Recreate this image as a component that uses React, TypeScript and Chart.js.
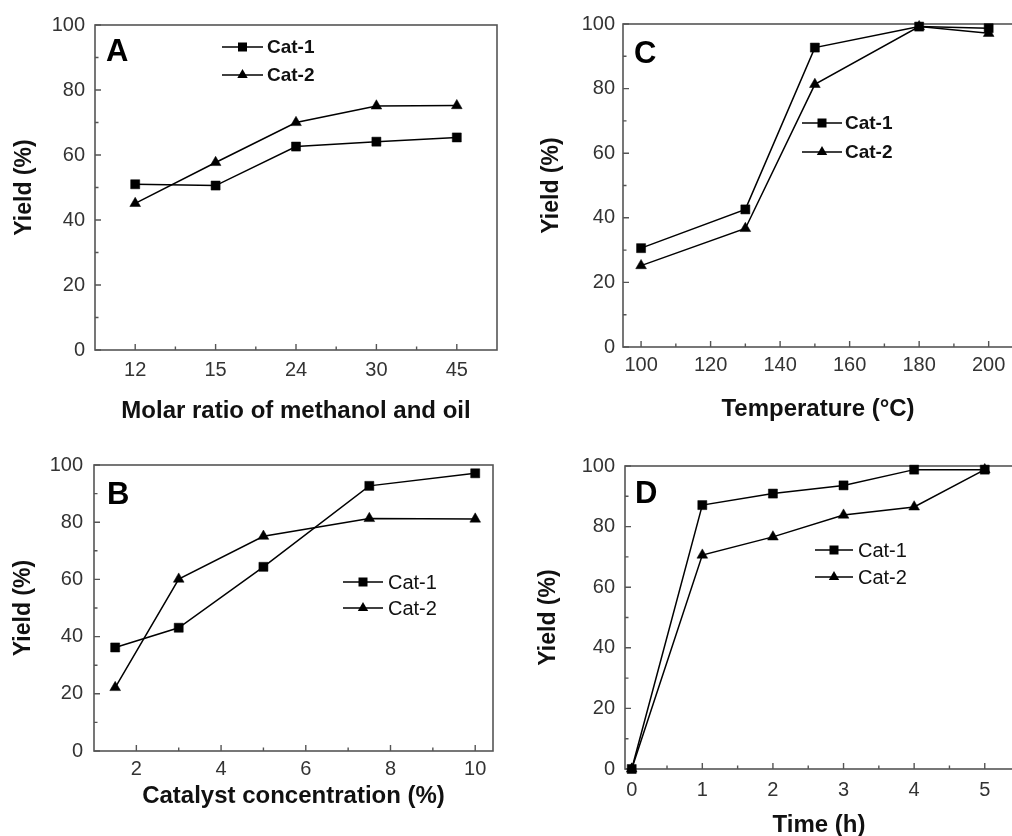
import React, { useEffect, useRef } from 'react';
import { Chart, registerables } from 'chart.js';

Chart.register(...registerables);

const FONT = "'Liberation Sans', Arial, Helvetica, sans-serif";

// ---------- Data ----------
const SERIES_LABELS = ['Cat-1', 'Cat-2'];
const Y_TICKS = [0, 20, 40, 60, 80, 100];
const Y_MINOR = [10, 30, 50, 70, 90];

// Panel A
const A_CATEGORIES = ['12', '15', '24', '30', '45'];
const A_CAT1 = [51.0, 50.6, 62.6, 64.1, 65.4];
const A_CAT2 = [45.1, 57.7, 70.0, 75.1, 75.2];
const A_X_MINOR = [0.5, 1.5, 2.5, 3.5];

// Panel B
const B_X = [1.5, 3, 5, 7.5, 10];
const B_CAT1 = [36.2, 43.1, 64.4, 92.7, 97.1];
const B_CAT2 = [22.2, 60.1, 75.1, 81.3, 81.1];
const B_X_TICKS = [2, 4, 6, 8, 10];
const B_X_MINOR = [3, 5, 7, 9];

// Panel C
const C_X = [100, 130, 150, 180, 200];
const C_CAT1 = [30.6, 42.6, 92.7, 99.2, 98.7];
const C_CAT2 = [25.2, 36.7, 81.3, 99.2, 97.1];
const C_X_TICKS = [100, 120, 140, 160, 180, 200];
const C_X_MINOR = [110, 130, 150, 170, 190];

// Panel D
const D_X = [0, 1, 2, 3, 4, 5];
const D_CAT1 = [0, 87.1, 90.9, 93.6, 98.8, 98.8];
const D_CAT2 = [0, 70.6, 76.6, 83.8, 86.5, 98.8];
const D_X_TICKS = [0, 1, 2, 3, 4, 5];
const D_X_MINOR = [0.5, 1.5, 2.5, 3.5, 4.5];

// ---------- Helpers ----------
function drawMarker(ctx: CanvasRenderingContext2D, style: string, x: number, y: number) {
  ctx.beginPath();
  if (style === 'rect') {
    const s = 4.5;
    ctx.rect(x - s, y - s, 2 * s, 2 * s);
  } else {
    const r = 6;
    ctx.moveTo(x, y - r);
    ctx.lineTo(x + r * 0.866, y + r * 0.5);
    ctx.lineTo(x - r * 0.866, y + r * 0.5);
    ctx.closePath();
  }
  ctx.fillStyle = '#000';
  ctx.fill();
}

const decorPlugin = {
  id: 'panelDecor',
  beforeDatasetsDraw(chart: any, _args: any, opts: any) {
    const { ctx, chartArea } = chart;
    const { left, right, top, bottom } = chartArea;
    const xs = chart.scales.x;
    const ys = chart.scales.y;
    ctx.save();
    ctx.strokeStyle = '#555';
    ctx.lineWidth = 1.6;
    ctx.strokeRect(left, top, right - left, bottom - top);
    ctx.lineWidth = 1.4;
    const major = 6;
    const minor = 3.5;
    ctx.beginPath();
    (opts.xMajor || xs.ticks.map((t: any) => t.value)).forEach((v: number) => {
      const px = xs.getPixelForValue(v);
      ctx.moveTo(px, bottom);
      ctx.lineTo(px, bottom - major);
    });
    (opts.xMinor || []).forEach((v: number) => {
      const px = xs.getPixelForValue(v);
      ctx.moveTo(px, bottom);
      ctx.lineTo(px, bottom - minor);
    });
    Y_TICKS.forEach((v) => {
      const py = ys.getPixelForValue(v);
      ctx.moveTo(left, py);
      ctx.lineTo(left + major, py);
    });
    Y_MINOR.forEach((v) => {
      const py = ys.getPixelForValue(v);
      ctx.moveTo(left, py);
      ctx.lineTo(left + minor, py);
    });
    ctx.stroke();

    // panel label
    ctx.fillStyle = '#000';
    ctx.font = `bold ${opts.labelSize}px ${FONT}`;
    ctx.textAlign = 'left';
    ctx.textBaseline = 'alphabetic';
    ctx.fillText(opts.label, opts.labelX, opts.labelY);

    // legend
    chart.data.datasets.forEach((ds: any, i: number) => {
      const y = opts.legendYs[i];
      ctx.beginPath();
      ctx.strokeStyle = '#000';
      ctx.lineWidth = 1.5;
      ctx.moveTo(opts.legendX1, y);
      ctx.lineTo(opts.legendX2, y);
      ctx.stroke();
      drawMarker(ctx, ds.pointStyle, (opts.legendX1 + opts.legendX2) / 2, y);
      ctx.fillStyle = '#111';
      ctx.font = `${opts.legendBold ? 'bold ' : ''}${opts.legendSize}px ${FONT}`;
      ctx.textBaseline = 'middle';
      ctx.fillText(ds.label, opts.legendTextX, y + 1);
    });
    ctx.restore();
  },
};

type Panel = {
  canvas: { left: number; top: number; w: number; h: number };
  plot: { l: number; t: number; r: number; b: number }; // relative to canvas
  xType: 'category' | 'linear';
  labels?: string[];
  xs?: number[];
  cat1: number[];
  cat2: number[];
  xMin?: number;
  xMax?: number;
  xTicks?: number[];
  xMinor: number[];
  xTitle: string;
  xTitlePadBottom: number;
  yTitlePadTop: number;
  yTickPad: number;
  xTickPad: number;
  decor: any;
};

function buildConfig(p: Panel): any {
  const mk = (vals: number[]) =>
    p.xType === 'category' ? vals : vals.map((v, i) => ({ x: (p.xs as number[])[i], y: v }));
  const common = {
    borderColor: '#000',
    borderWidth: 1.5,
    pointBackgroundColor: '#000',
    pointBorderColor: '#000',
    pointBorderWidth: 0.5,
    tension: 0,
    clip: false,
    fill: false,
  };
  const titleFont = { family: FONT, size: 23, weight: 'bold', lineHeight: 1.2 };
  return {
    type: 'line',
    data: {
      labels: p.labels,
      datasets: [
        { ...common, label: SERIES_LABELS[0], data: mk(p.cat1), pointStyle: 'rect', pointRadius: 6.4 },
        { ...common, label: SERIES_LABELS[1], data: mk(p.cat2), pointStyle: 'triangle', pointRadius: 6.2 },
      ],
    },
    options: {
      responsive: false,
      maintainAspectRatio: false,
      animation: false,
      events: [],
      layout: { padding: { left: 0, top: p.plot.t, right: p.canvas.w - p.plot.r, bottom: 0 } },
      plugins: {
        legend: { display: false },
        tooltip: { enabled: false },
        panelDecor: { ...p.decor, xMajor: p.xType === 'category' ? [0, 1, 2, 3, 4] : p.xTicks, xMinor: p.xMinor },
      },
      scales: {
        x: {
          type: p.xType,
          position: 'bottom',
          offset: p.xType === 'category',
          min: p.xMin,
          max: p.xMax,
          grid: { display: false, drawTicks: false },
          border: { display: false },
          ticks: { font: { family: FONT, size: 20 }, color: '#333', padding: p.xTickPad, maxRotation: 0, autoSkip: false },
          afterBuildTicks: p.xTicks
            ? (s: any) => {
                s.ticks = (p.xTicks as number[]).map((v) => ({ value: v }));
              }
            : undefined,
          title: {
            display: true,
            text: p.xTitle,
            color: '#111',
            font: { ...titleFont, size: 24 },
            padding: { top: 0, bottom: p.xTitlePadBottom },
          },
          afterFit: (s: any) => {
            s.height = p.canvas.h - p.plot.b;
          },
        },
        y: {
          type: 'linear',
          min: 0,
          max: 100,
          grid: { display: false, drawTicks: false },
          border: { display: false },
          afterBuildTicks: (s: any) => {
            s.ticks = Y_TICKS.map((v) => ({ value: v }));
          },
          ticks: { font: { family: FONT, size: 20 }, color: '#333', padding: p.yTickPad },
          title: {
            display: true,
            text: 'Yield (%)',
            color: '#111',
            font: titleFont,
            padding: { top: p.yTitlePadTop, bottom: 0 },
          },
          afterFit: (s: any) => {
            s.width = p.plot.l;
          },
        },
      },
    },
    plugins: [decorPlugin],
  };
}

const PANELS: Panel[] = [
  {
    canvas: { left: 0, top: 0, w: 506, h: 430 },
    plot: { l: 95, t: 25, r: 497, b: 350 },
    xType: 'category',
    labels: A_CATEGORIES,
    cat1: A_CAT1,
    cat2: A_CAT2,
    xMinor: A_X_MINOR,
    xTitle: 'Molar ratio of methanol and oil',
    xTitlePadBottom: 4,
    yTitlePadTop: 11,
    yTickPad: 10,
    xTickPad: 8,
    decor: { label: 'A', labelX: 106, labelY: 61, labelSize: 31, legendX1: 222, legendX2: 263, legendTextX: 267, legendYs: [47, 75], legendBold: true, legendSize: 19 },
  },
  {
    canvas: { left: 0, top: 430, w: 506, h: 406 },
    plot: { l: 94, t: 35, r: 493, b: 321 },
    xType: 'linear',
    xs: B_X,
    cat1: B_CAT1,
    cat2: B_CAT2,
    xMin: 1,
    xMax: 10.42,
    xTicks: B_X_TICKS,
    xMinor: B_X_MINOR,
    xTitle: 'Catalyst concentration (%)',
    xTitlePadBottom: 25,
    yTitlePadTop: 10,
    yTickPad: 11,
    xTickPad: 6,
    decor: { label: 'B', labelX: 107, labelY: 74, labelSize: 31, legendX1: 343, legendX2: 383, legendTextX: 388, legendYs: [152, 178], legendBold: false, legendSize: 20 },
  },
  {
    canvas: { left: 506, top: 0, w: 520, h: 430 },
    plot: { l: 117, t: 24, r: 507, b: 347 },
    xType: 'linear',
    xs: C_X,
    cat1: C_CAT1,
    cat2: C_CAT2,
    xMin: 94.8,
    xMax: 207,
    xTicks: C_X_TICKS,
    xMinor: C_X_MINOR,
    xTitle: 'Temperature (°C)',
    xTitlePadBottom: 6,
    yTitlePadTop: 32,
    yTickPad: 8,
    xTickPad: 6,
    decor: { label: 'C', labelX: 128, labelY: 63, labelSize: 31, legendX1: 296, legendX2: 336, legendTextX: 339, legendYs: [123, 152], legendBold: true, legendSize: 19 },
  },
  {
    canvas: { left: 506, top: 430, w: 520, h: 420 },
    plot: { l: 119, t: 36, r: 507, b: 339 },
    xType: 'linear',
    xs: D_X,
    cat1: D_CAT1,
    cat2: D_CAT2,
    xMin: -0.095,
    xMax: 5.4,
    xTicks: D_X_TICKS,
    xMinor: D_X_MINOR,
    xTitle: 'Time (h)',
    xTitlePadBottom: 10,
    yTitlePadTop: 29,
    yTickPad: 10,
    xTickPad: 9,
    decor: { label: 'D', labelX: 129, labelY: 73, labelSize: 31, legendX1: 309, legendX2: 347, legendTextX: 352, legendYs: [120, 147], legendBold: false, legendSize: 20 },
  },
];

function PanelChart({ panel }: { panel: Panel }) {
  const ref = useRef<HTMLCanvasElement | null>(null);
  useEffect(() => {
    if (!ref.current) return;
    const chart = new Chart(ref.current, buildConfig(panel));
    return () => chart.destroy();
  }, [panel]);
  return (
    <canvas
      ref={ref}
      width={panel.canvas.w}
      height={panel.canvas.h}
      style={{
        position: 'absolute',
        left: panel.canvas.left,
        top: panel.canvas.top,
        width: panel.canvas.w,
        height: panel.canvas.h,
      }}
    />
  );
}

export default function App() {
  return (
    <div
      style={{
        position: 'fixed',
        left: 0,
        top: 0,
        width: 1012,
        height: 836,
        overflow: 'hidden',
        background: '#fff',
      }}
    >
      {PANELS.map((p, i) => (
        <PanelChart key={i} panel={p} />
      ))}
    </div>
  );
}
